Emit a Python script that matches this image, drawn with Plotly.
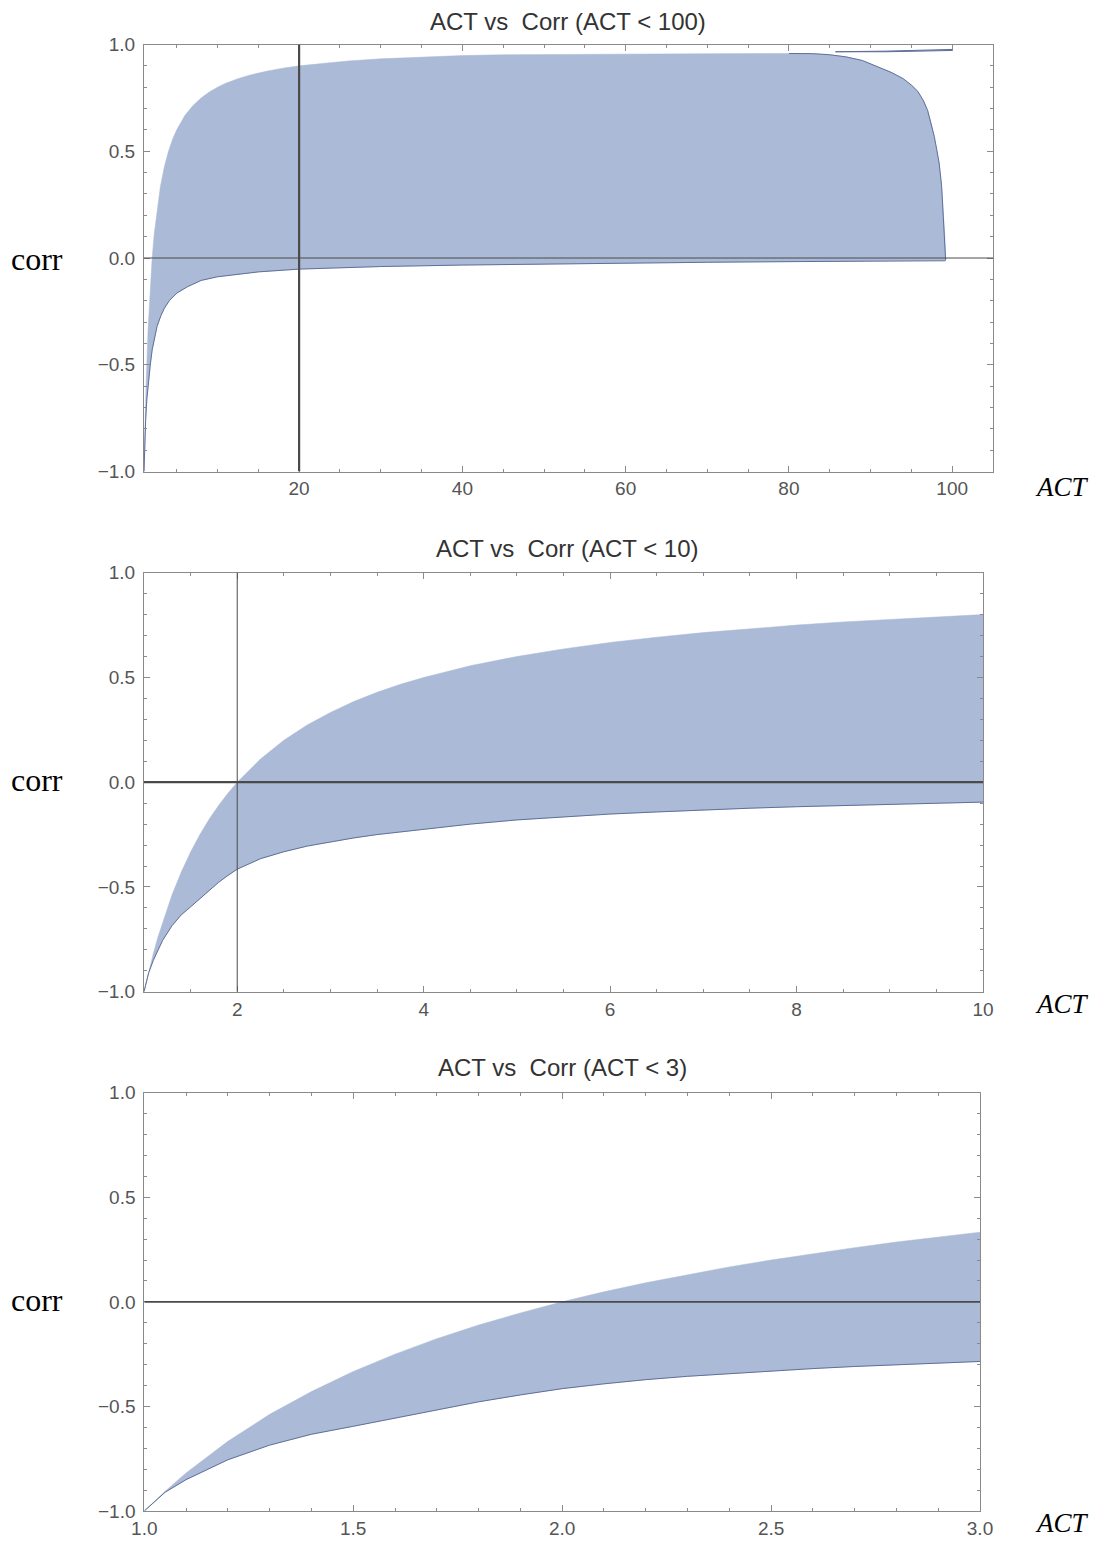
import plotly.graph_objects as go

# ---------------- data ----------------
# Panel 1: ACT < 100
act1_upper = [1.0, 1.1, 1.25, 1.5, 1.75, 2.0, 2.25, 2.5, 3.0, 3.5, 4.0, 4.5, 5.0, 6.0, 7.0, 8.0, 9.0,
              10.0, 11.0, 12.5, 14.0, 16.0, 18.0, 20.0, 23.0, 26.0, 30.0, 35.0, 40.0, 45.0, 50.0,
              60.0, 70.0, 80.0, 83.0, 85.0, 87.0, 89.0, 91.0, 92.5, 94.0, 95.0, 95.8, 96.5, 97.0,
              97.4, 97.8, 98.1, 98.4, 98.7, 98.9, 99.1, 99.2]
corr1_upper = [-1.0, -0.82, -0.6, -0.333, -0.143, 0.0, 0.111, 0.2, 0.333, 0.429, 0.5, 0.556, 0.6,
               0.667, 0.714, 0.75, 0.778, 0.8, 0.818, 0.84, 0.857, 0.875, 0.889, 0.9, 0.913, 0.923,
               0.933, 0.942, 0.948, 0.952, 0.954, 0.956, 0.957, 0.958, 0.957, 0.952, 0.942, 0.925,
               0.895, 0.87, 0.84, 0.81, 0.78, 0.735, 0.69, 0.635, 0.57, 0.51, 0.445, 0.34, 0.22,
               0.1, -0.01]
act1_lower = [1.0, 1.1, 1.2, 1.35, 1.5, 1.77, 2.0, 2.26, 2.6, 3.07, 3.5, 4.1, 5.0, 6.3, 8.0, 10.0,
              12.5, 15.0, 20.0, 25.0, 30.0, 40.0, 50.0, 60.0, 70.0, 80.0, 90.0, 99.2]
corr1_lower = [-1.0, -0.85, -0.76, -0.66, -0.59, -0.5, -0.43, -0.38, -0.32, -0.27, -0.235, -0.2,
               -0.165, -0.135, -0.105, -0.088, -0.075, -0.065, -0.052, -0.045, -0.04, -0.033,
               -0.028, -0.024, -0.02, -0.017, -0.015, -0.013]
# thin artefact sliver at the top right of panel 1
act1_sliver = [85.7, 92.0, 100.0, 100.0, 92.0, 85.7]
corr1_sliver = [0.966, 0.969, 0.977, 0.972, 0.966, 0.966]

# Panel 2: ACT < 10
act2 = [1.0, 1.05, 1.1, 1.15, 1.2, 1.3, 1.4, 1.5, 1.6, 1.7, 1.8, 1.9, 2.0, 2.25, 2.5, 2.75, 3.0,
        3.25, 3.5, 3.75, 4.0, 4.5, 5.0, 5.5, 6.0, 6.5, 7.0, 7.5, 8.0, 8.5, 9.0, 9.5, 10.0]
corr2_upper = [-1.0, -0.905, -0.818, -0.739, -0.667, -0.538, -0.429, -0.333, -0.25, -0.176, -0.111,
               -0.053, 0.0, 0.111, 0.2, 0.273, 0.333, 0.385, 0.429, 0.467, 0.5, 0.556, 0.6, 0.636,
               0.667, 0.692, 0.714, 0.733, 0.75, 0.765, 0.778, 0.789, 0.8]
corr2_lower = [-1.0, -0.91, -0.85, -0.8, -0.755, -0.685, -0.633, -0.595, -0.555, -0.517, -0.478,
               -0.445, -0.415, -0.365, -0.332, -0.305, -0.285, -0.266, -0.25, -0.237, -0.225, -0.2,
               -0.18, -0.165, -0.152, -0.142, -0.132, -0.124, -0.117, -0.111, -0.105, -0.1, -0.095]

# Panel 3: ACT < 3
act3 = [1.0, 1.05, 1.1, 1.2, 1.3, 1.4, 1.5, 1.6, 1.7, 1.8, 1.9, 2.0, 2.1, 2.2, 2.3, 2.4, 2.5, 2.6,
        2.7, 2.8, 2.9, 3.0]
corr3_upper = [-1.0, -0.905, -0.818, -0.667, -0.538, -0.429, -0.333, -0.25, -0.176, -0.111, -0.053,
               0.0, 0.048, 0.091, 0.13, 0.167, 0.2, 0.231, 0.259, 0.286, 0.31, 0.333]
corr3_lower = [-1.0, -0.91, -0.85, -0.755, -0.685, -0.633, -0.595, -0.555, -0.517, -0.478, -0.445,
               -0.415, -0.392, -0.372, -0.356, -0.343, -0.332, -0.319, -0.309, -0.3, -0.292, -0.285]

titles = ["ACT vs\u00a0 Corr (ACT < 100)", "ACT vs\u00a0 Corr (ACT < 10)", "ACT vs\u00a0 Corr (ACT < 3)"]
y_ticks = [-1.0, -0.5, 0.0, 0.5, 1.0]
y_ticktext = ["\u22121.0", "\u22120.5", "0.0", "0.5", "1.0"]
x1_ticks = [20, 40, 60, 80, 100]
x2_ticks = [2, 4, 6, 8, 10]
x3_ticks = [1.0, 1.5, 2.0, 2.5, 3.0]
x3_ticktext = ["1.0", "1.5", "2.0", "2.5", "3.0"]

# ---------------- styling ----------------
W, H = 1109, 1546
OFF = 8  # page body margin offset
FILL = "#abbad6"
EDGE = "#5f6f99"
FRAME = "#8a8a8a"
AXLINE = "#4a4a4a"
SANS = "Liberation Sans, Arial, sans-serif"
SERIF = "Liberation Serif, Times New Roman, serif"

# panel geometry in page pixels: (left, right, top, bottom)
boxes = [(144, 993, 44.5, 471.5), (144, 983, 572.7, 991.7), (144.3, 980, 1092.7, 1511)]


def px_x(p):
    return (p - OFF) / W


def px_y(p):
    return 1 - (p - OFF) / H


def dom(b):
    l, r, t, btm = b
    return [px_x(l), px_x(r)], [px_y(btm), px_y(t)]


fig = go.Figure()


def band(xl, yl, xu, yu, ax):
    xa, ya = ("x", "y") if ax == 1 else (f"x{ax}", f"y{ax}")
    fig.add_trace(go.Scatter(x=list(xl) + list(xu)[::-1], y=list(yl) + list(yu)[::-1],
                             mode="lines", fill="toself", fillcolor=FILL,
                             line=dict(color=FILL, width=0.5),
                             xaxis=xa, yaxis=ya, showlegend=False, hoverinfo="skip"))
    fig.add_trace(go.Scatter(x=xl, y=yl, mode="lines", line=dict(color=EDGE, width=1),
                             xaxis=xa, yaxis=ya, showlegend=False, hoverinfo="skip"))


band(act1_lower, corr1_lower, act1_upper, corr1_upper, 1)
# right edge of panel 1 boundary line
fig.add_trace(go.Scatter(x=act1_upper[-20:], y=corr1_upper[-20:], mode="lines",
                         line=dict(color=EDGE, width=1), xaxis="x", yaxis="y",
                         showlegend=False, hoverinfo="skip"))
fig.add_trace(go.Scatter(x=act1_sliver, y=corr1_sliver, mode="lines", fill="toself",
                         fillcolor=FILL, line=dict(color=EDGE, width=1),
                         xaxis="x", yaxis="y", showlegend=False, hoverinfo="skip"))
band(act2, corr2_lower, act2, corr2_upper, 2)
band(act3, corr3_lower, act3, corr3_upper, 3)

common_axis = dict(showgrid=False, zeroline=False, showline=True, linecolor=FRAME, linewidth=1,
                   mirror="allticks", ticks="inside", ticklen=6, tickwidth=1, tickcolor=FRAME,
                   automargin=False,
                   tickfont=dict(family=SANS, size=19, color="#555"))

ranges = [[1, 105], [1, 10], [1, 3]]
xticks = [(x1_ticks, [str(v) for v in x1_ticks]), (x2_ticks, [str(v) for v in x2_ticks]),
          (x3_ticks, x3_ticktext)]
xminor = [5, 0.5, 0.1]

layout = dict(template="none", width=W, height=H, margin=dict(l=0, r=0, t=0, b=0, pad=0),
              paper_bgcolor="white", plot_bgcolor="white", showlegend=False)
for i, b in enumerate(boxes):
    xd, yd = dom(b)
    sfx = "" if i == 0 else str(i + 1)
    layout["xaxis" + sfx] = dict(common_axis, domain=xd, range=ranges[i], anchor="y" + sfx,
                                 tickmode="array", tickvals=xticks[i][0], ticktext=xticks[i][1],
                                 minor=dict(ticks="inside", ticklen=3, tickcolor=FRAME,
                                            dtick=xminor[i], tick0=0, showgrid=False))
    layout["yaxis" + sfx] = dict(common_axis, domain=yd, range=[-1, 1], anchor="x" + sfx,
                                 tickmode="array", tickvals=y_ticks, ticktext=y_ticktext,
                                 ticklabelstandoff=4,
                                 minor=dict(ticks="inside", ticklen=3, tickcolor=FRAME,
                                            dtick=0.1, tick0=0, showgrid=False))
fig.update_layout(**layout)

# axes lines (Mathematica Axes)
hlines = [(1, 1.0), (2, 2.2), (3, 1.6)]
for ax, w in hlines:
    xa = "x" if ax == 1 else f"x{ax}"
    ya = "y" if ax == 1 else f"y{ax}"
    fig.add_shape(type="line", xref=xa, yref=ya, x0=ranges[ax - 1][0], x1=ranges[ax - 1][1],
                  y0=0, y1=0, line=dict(color=AXLINE, width=w), layer="above")
fig.add_shape(type="line", xref="x", yref="y", x0=20, x1=20, y0=-1, y1=1,
              line=dict(color=AXLINE, width=2.2), layer="above")
fig.add_shape(type="line", xref="x2", yref="y2", x0=2, x1=2, y0=-1, y1=1,
              line=dict(color=AXLINE, width=1), layer="above")

# titles and axis labels (page pixel positions)
title_pos = [(568, 21), (567, 548), (562, 1067)]
for t, (px, py) in zip(titles, title_pos):
    fig.add_annotation(text=t, x=px_x(px), y=px_y(py), xref="paper", yref="paper",
                       showarrow=False, xanchor="center", yanchor="middle", borderpad=0,
                       font=dict(family=SANS, size=24, color="#333"))
corr_y = [259, 780, 1300]
act_y = [487, 1004, 1523]
for cy, ay in zip(corr_y, act_y):
    fig.add_annotation(text="corr", x=px_x(37), y=px_y(cy), xref="paper", yref="paper",
                       showarrow=False, xanchor="center", yanchor="middle",
                       font=dict(family=SERIF, size=32, color="black"))
    fig.add_annotation(text="<i>ACT</i>", x=px_x(1062), y=px_y(ay), xref="paper", yref="paper",
                       showarrow=False, xanchor="center", yanchor="middle",
                       font=dict(family=SERIF, size=27, color="black"))

fig.write_html("out.html")
